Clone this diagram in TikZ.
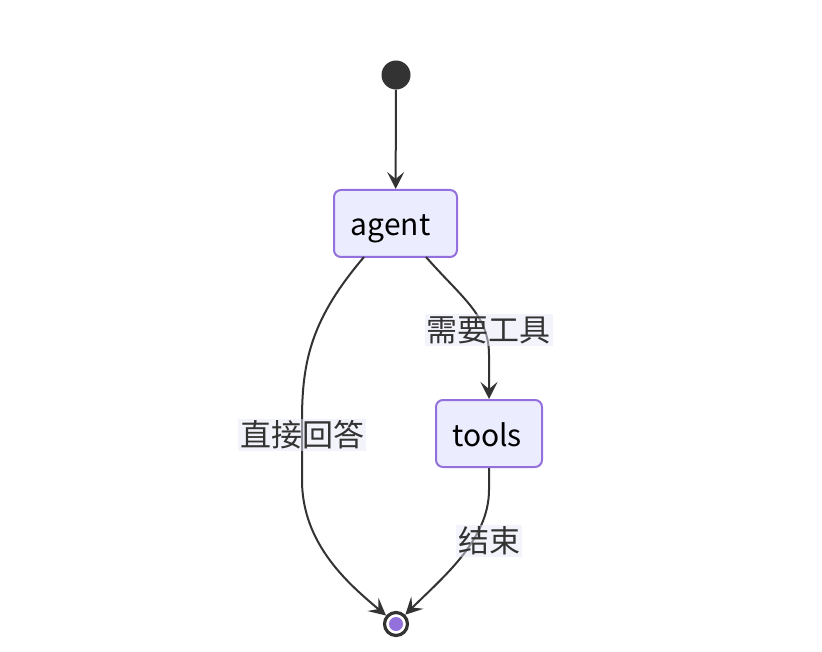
\documentclass[tikz,border=0pt]{standalone}
\usepackage{fontspec}
\setmainfont{Noto Sans CJK SC}
\usetikzlibrary{arrows.meta}

\definecolor{boxfill}{HTML}{ECECFF}
\definecolor{boxline}{HTML}{9370DB}
\definecolor{edgeline}{HTML}{333333}
\definecolor{labelfill}{HTML}{E8E8F8}

\begin{document}
\begin{tikzpicture}[x=1pt, y=-1pt,
    main/.style = {draw=boxline, fill=boxfill, line width=2pt, rounded corners=7pt,
                   minimum width=123pt, minimum height=67pt, font=\fontsize{30}{33}\selectfont, text=black},
    lbl/.style = {fill=labelfill, fill opacity=0.5, text opacity=1, text=edgeline,
                  inner sep=2pt, font=\fontsize{31}{34}\selectfont},
    flow/.style = {draw=edgeline, line width=2pt, -{Stealth[length=17pt, width=17pt, inset=7pt]}}]
            \useasboundingbox (0,0) rectangle (822,652);

            \node[circle, fill=edgeline, minimum size=29pt, inner sep=0pt] (start) at (396,75) {};
            \node[main] (agent) at (395.5,223.5) {\raisebox{-5pt}[\height][\depth]{agent}\hspace*{10pt}};
            \node[main, minimum width=106pt] (tools) at (489,433.5) {\raisebox{-1pt}[\height][\depth]{tools}\hspace*{4pt}};
            \node[circle, draw=edgeline, line width=3.2pt, fill=white, minimum size=23pt, inner sep=0pt] (stop) at (396,624) {};
            \node[circle, fill=boxline, minimum size=14pt, inner sep=0pt] at (stop) {};

            % edges
            \path[flow] (start) -- (agent);
            \path[flow] (364,257) .. controls (312,318) and (302,360) .. (302,420)
                        -- (302,480) .. controls (302,545) and (350,585) .. (stop);
            \path[flow] (426,257) .. controls (462,298) and (489,315) .. (489,355) -- (tools);
            \path[flow] (tools) -- (489,490) .. controls (489,540) and (442,578) .. (stop);

            % labels
            \node[lbl] (need) at (488.5,330) {需要工具};
            \node[lbl] (direct) at (302,435) {直接回答};
            \node[lbl] (done) at (489,541) {结束};
        \end{tikzpicture}
\end{document}
